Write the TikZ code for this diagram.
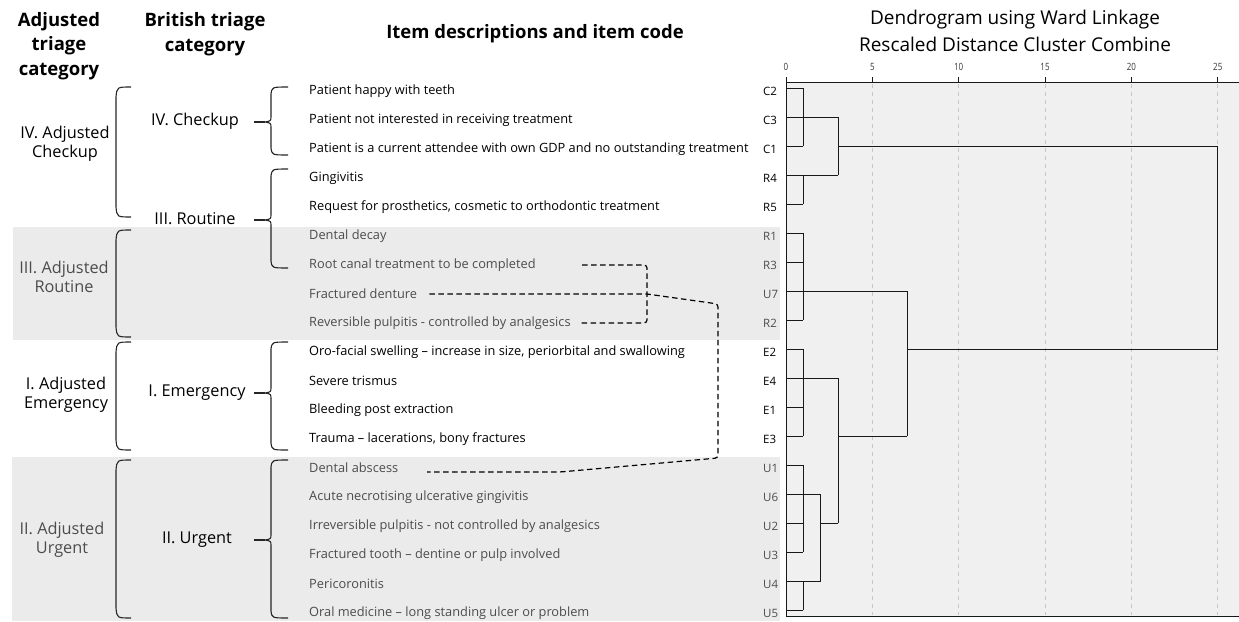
\documentclass[tikz,border=0pt]{standalone}
\usepackage{fontspec}
\setmainfont{Open Sans}
\usepackage{tikz}
\usetikzlibrary{positioning}

\definecolor{BandGray}{HTML}{EBEBEB}
\definecolor{PlotGray}{HTML}{F0F0F0}

% curly brace with a tip: top, tip, bottom
\newcommand{\BritBrace}[3]{%
  \draw[BraceLine] (288,#1) .. controls (272,#1) .. (271,#1+7) -- (271,#2-6)
    .. controls (271,#2-1) .. (265,#2) .. controls (271,#2+1) .. (271,#2+6)
    -- (271,#3-7) .. controls (272,#3) .. (288,#3);
  \draw[BraceLine] (265,#2) -- (254,#2);}
% round bracket without tip: top, bottom
\newcommand{\AdjBrace}[2]{%
  \draw[BraceLine] (131,#1) .. controls (117,#1) .. (116,#1+10) -- (116,#2-10)
    .. controls (117,#2) .. (131,#2);}

\begin{document}
\begin{tikzpicture}[x=1pt,y=-1pt]
		\tikzstyle{Head}	= [font=\fontsize{18.5}{24.5}\selectfont\bfseries, align=center, inner sep=0pt]
		\tikzstyle{Title}	= [font=\fontsize{19}{22}\selectfont, inner sep=0pt]
		\tikzstyle{Group}	= [font=\fontsize{16.3}{19.5}\selectfont, align=center, inner sep=0pt]
		\tikzstyle{Item}	= [anchor=west, inner sep=0pt, font=\fontsize{12.8}{15}\selectfont]
		\tikzstyle{Code}	= [anchor=west, inner sep=0pt, font=\fontsize{11.5}{13}\selectfont]
		\tikzstyle{Shaded}	= [text=black!70]
		\tikzstyle{BraceLine}	= [line width=1.1pt, black!85]
		\tikzstyle{Tree}	= [line width=1pt, black!90]
		\tikzstyle{Grid}	= [black!22, line width=0.6pt, dash pattern=on 4pt off 4pt]
		\tikzstyle{Link}	= [line width=1.2pt, dash pattern=on 5.5pt off 3.5pt, rounded corners=3pt]
		\tikzstyle{Tick}	= [font=\fontsize{10}{10}\selectfont, text=black!80, inner sep=0pt, xscale=0.8]

		\useasboundingbox (0,0) rectangle (1239,621);

		% shaded bands and plot area
		\fill[BandGray] (13,227) rectangle (780,340);
		\fill[BandGray] (12,457) rectangle (780,621);
		\fill[PlotGray] (786,82) rectangle (1239,616);

		% headings
		\node (hadj) at (59,46) [Head] {Adjusted\\triage\\category};
		\node (hbrit) at (205,34) [Head] {British triage\\category};
		\node (hitem) at (535,34) [Head] {Item descriptions and item code};
		\node (htitle) at (1015,20) [Title] {Dendrogram using Ward Linkage};
		\node (hsub) at (1015,44) [Title] {Rescaled Distance Cluster Combine};

		% adjusted categories
		\node (gchk) at (65,144) [Group] {IV. Adjusted\\Checkup};
		\node (grou) at (64,277) [Group, Shaded] {III. Adjusted\\Routine};
		\node (geme) at (66,395) [Group] {I. Adjusted\\Emergency};
		\node (gurg) at (62,540) [Group, Shaded] {II. Adjusted\\Urgent};
		\AdjBrace{87}{217}
		\AdjBrace{230}{337}
		\AdjBrace{342}{450}
		\AdjBrace{460}{618}

		% british categories
		\node (bchk) at (195,121) [Group] {IV. Checkup};
		\node (brou) at (195,219) [Group] {III. Routine};
		\node (beme) at (197,393) [Group] {I. Emergency};
		\node (burg) at (197,540) [Group] {II. Urgent};
		\BritBrace{87}{122}{155}
		\BritBrace{169}{220}{268}
		\BritBrace{342}{393}{450}
		\BritBrace{460}{540}{618}

		% items
		\node (c2) at (309,91) [Item] {Patient happy with teeth};
		\node (c3) at (309,120) [Item] {Patient not interested in receiving treatment};
		\node (c1) at (309,149) [Item] {Patient is a current attendee with own GDP and no outstanding treatment};
		\node (r4) at (309,178) [Item] {Gingivitis};
		\node (r5) at (309,207) [Item] {Request for prosthetics, cosmetic to orthodontic treatment};
		\node (r1) at (309,236) [Item, Shaded] {Dental decay};
		\node (r3) at (309,265) [Item, Shaded] {Root canal treatment to be completed};
		\node (u7) at (309,294) [Item, Shaded] {Fractured denture};
		\node (r2) at (309,323) [Item, Shaded] {Reversible pulpitis - controlled by analgesics};
		\node (e2) at (309,352) [Item] {Oro-facial swelling -- increase in size, periorbital and swallowing};
		\node (e4) at (309,381) [Item] {Severe trismus};
		\node (e1) at (309,410) [Item] {Bleeding post extraction};
		\node (e3) at (309,439) [Item] {Trauma -- lacerations, bony fractures};
		\node (u1) at (309,468) [Item, Shaded] {Dental abscess};
		\node (u6) at (309,497) [Item, Shaded] {Acute necrotising ulcerative gingivitis};
		\node (u2) at (309,526) [Item, Shaded] {Irreversible pulpitis - not controlled by analgesics};
		\node (u3) at (309,555) [Item, Shaded] {Fractured tooth -- dentine or pulp involved};
		\node (u4) at (309,584) [Item, Shaded] {Pericoronitis};
		\node (u5) at (309,613) [Item, Shaded] {Oral medicine -- long standing ulcer or problem};

		% item codes
		\node (kc2) at (763,91) [Code] {C2};
		\node (kc3) at (763,120) [Code] {C3};
		\node (kc1) at (763,149) [Code] {C1};
		\node (kr4) at (763,178) [Code] {R4};
		\node (kr5) at (763,207) [Code] {R5};
		\node (kr1) at (763,236) [Code, Shaded] {R1};
		\node (kr3) at (763,265) [Code, Shaded] {R3};
		\node (ku7) at (763,294) [Code, Shaded] {U7};
		\node (kr2) at (763,323) [Code, Shaded] {R2};
		\node (ke2) at (763,352) [Code] {E2};
		\node (ke4) at (763,381) [Code] {E4};
		\node (ke1) at (763,410) [Code] {E1};
		\node (ke3) at (763,439) [Code] {E3};
		\node (ku1) at (763,468) [Code, Shaded] {U1};
		\node (ku6) at (763,497) [Code, Shaded] {U6};
		\node (ku2) at (763,526) [Code, Shaded] {U2};
		\node (ku3) at (763,555) [Code, Shaded] {U3};
		\node (ku4) at (763,584) [Code, Shaded] {U4};
		\node (ku5) at (763,613) [Code, Shaded] {U5};

		% moved items
		\coordinate (startA) at (582,0);
		\coordinate (bendA) at (647,0);
		\coordinate (bendB) at (718,0);
		\coordinate (endB) at (427,472);
		\draw[Link] (r3.east -| startA) -- (r3.east -| bendA) -- (r2.east -| bendA) -- ([xshift=9pt]r2.east);
		\draw[Link] ([xshift=12pt]u7.east) -- (u7.east -| bendA) -- (718,304) -- (718,458) -- (560,472) -- (endB);

		% axis, grid and scale
		\foreach \v/\lab in {0/0, 5/5, 10/10, 15/15, 20/20, 25/25} {
			\draw[Tree] ({786+17.27*\v},77) -- ({786+17.27*\v},82);
			\node (t\v) at ({786+17.27*\v},67) [Tick] {\lab};
		}
		\foreach \v in {5,10,15,20,25}
			\draw[Grid] ({786+17.27*\v},84) -- ({786+17.27*\v},615);
		\draw[Tree] (786,82) -- (1239,82);
		\draw[Tree] (786,616) -- (1239,616);
		\draw[Tree] (786,82) -- (786,616);

		% dendrogram
		\foreach \i in {0,...,18}
			\draw[Tree] (786,{88+29*\i}) -- (803,{88+29*\i});
		\draw[Tree] (803,88) -- (803,146);
		\draw[Tree] (803,175) -- (803,204);
		\draw[Tree] (803,233) -- (803,320);
		\draw[Tree] (803,349) -- (803,436);
		\draw[Tree] (803,465) -- (803,552);
		\draw[Tree] (803,581) -- (803,610);
		\draw[Tree] (803,117) -- (838,117);
		\draw[Tree] (803,175) -- (838,175);
		\draw[Tree] (838,117) -- (838,175);
		\draw[Tree] (838,146) -- (1217.7,146);
		\draw[Tree] (803,291) -- (907,291);
		\draw[Tree] (803,378) -- (838,378);
		\draw[Tree] (803,494) -- (820.5,494);
		\draw[Tree] (803,581) -- (820.5,581);
		\draw[Tree] (820.5,494) -- (820.5,581);
		\draw[Tree] (820.5,523) -- (838,523);
		\draw[Tree] (838,378) -- (838,523);
		\draw[Tree] (838,436) -- (907,436);
		\draw[Tree] (907,291) -- (907,436);
		\draw[Tree] (907,349) -- (1217.7,349);
		\draw[Tree] (1217.7,146) -- (1217.7,349);
	\end{tikzpicture}
\end{document}
